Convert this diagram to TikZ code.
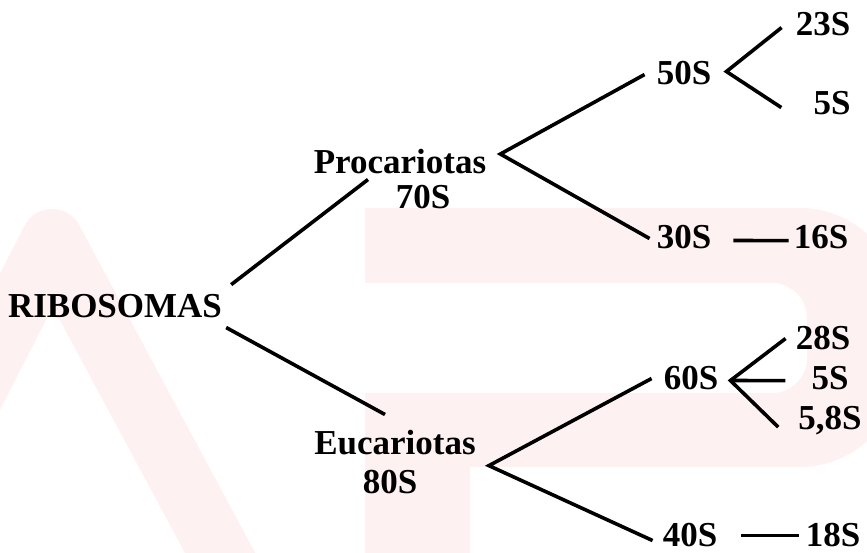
\documentclass[tikz,border=0pt]{standalone}
\usepackage{fontspec}
\setmainfont{Liberation Serif}
\definecolor{wm}{RGB}{254,241,242}
\tikzset{
  lbl/.style={anchor=base, inner sep=0pt, font=\fontsize{35}{38}\selectfont\bfseries},
  con/.style={line width=3.6pt, line cap=butt, line join=miter},
}
\begin{document}
\begin{tikzpicture}[x=1pt,y=-1pt]
\useasboundingbox (0,0) rectangle (867,553);
% faint watermark
\begin{scope}
  \clip (0,0) rectangle (867,553);
  \fill[wm] (365,208) -- (800,208) .. controls (855.2,208) and (900,252.8) .. (900,308)
    -- (900,367) .. controls (900,422.2) and (855.2,467) .. (800,467)
    -- (470,467) -- (470,553) -- (365,553) -- (365,393)
    -- (772,393) .. controls (791.3,393) and (807,377.3) .. (807,358)
    -- (807,318) .. controls (807,298.7) and (791.3,283) .. (772,283)
    -- (365,283) -- cycle;
  \draw[wm, line width=62pt, line join=round] (-40,420) -- (52,240) -- (240,590);
\end{scope}
% labels
\node[lbl] (ribo) at (115,317) {RIBOSOMAS};
\node[lbl] (pro)  at (400,174) {Procariotas};
\node[lbl] (n70)  at (423,209) {70S};
\node[lbl] (euc)  at (395,454) {Eucariotas};
\node[lbl] (n80)  at (390,493) {80S};
\node[lbl] (n50)  at (684,85)  {50S};
\node[lbl] (n23)  at (823,36)  {23S};
\node[lbl] (n5a)  at (832,115) {5S};
\node[lbl] (n30)  at (684,249) {30S};
\node[lbl] (n16)  at (821,249) {16S};
\node[lbl] (n60)  at (691,389) {60S};
\node[lbl] (n28)  at (823,349) {28S};
\node[lbl] (n5b)  at (830,389) {5S};
\node[lbl] (n58)  at (830,429) {5,8S};
\node[lbl] (n40)  at (690,546) {40S};
\node[lbl] (n18)  at (833,546) {18S};
% branch points
\coordinate (vpro) at ([shift={(14,-8)}]pro.east);
\coordinate (veuc) at ([shift={(13,11)}]euc.south east);
\coordinate (v50)  at ([shift={(15,-2)}]n50.east);
\coordinate (v60)  at ([shift={(12,3)}]n60.east);
% connectors
\draw[con] ([shift={(9,-9)}]ribo.north east) -- ([shift={(-32,5)}]pro.south);
\draw[con] ([shift={(4,10)}]ribo.south east) -- ([shift={(-10,-15)}]euc.north);
\draw[con] ([shift={(-12,1)}]n50.west) -- (vpro) -- ([shift={(-7,1)}]n30.west);
\draw[con] ([shift={(-14,3)}]n23.west) -- (v50) -- ([shift={(-32,4)}]n5a.west);
\draw[con] ([shift={(22,3)}]n30.east) -- ([shift={(-5,3)}]n16.west);
\draw[con] ([shift={(-12,1)}]n60.west) -- (veuc) -- ([shift={(-10,6)}]n40.west);
\draw[con] ([shift={(-10,1)}]n28.west) -- (v60) -- ([shift={(-20,7)}]n58.west);
\draw[con] (v60) -- ([shift={(-26,3)}]n5b.west);
\draw[con] ([shift={(24,1)}]n40.east) -- ([shift={(-7,1)}]n18.west);
\end{tikzpicture}
\end{document}
